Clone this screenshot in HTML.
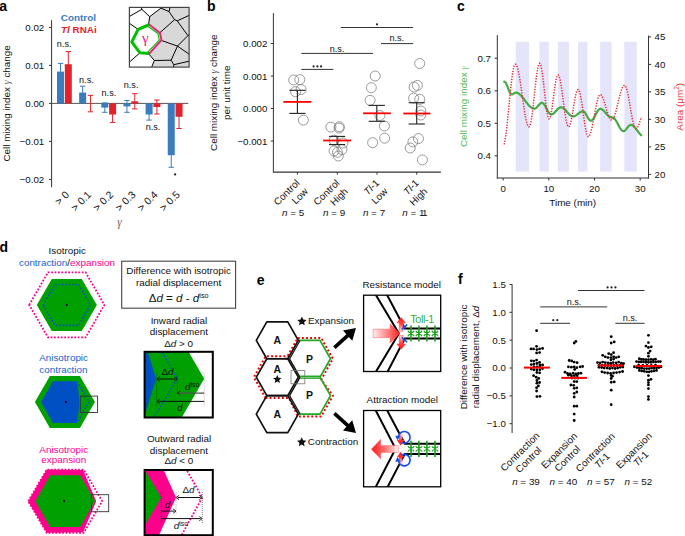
<!DOCTYPE html>
<html><head><meta charset="utf-8"><title>Figure</title>
<style>
html,body{margin:0;padding:0;background:#fff;}
body{width:685px;height:536px;overflow:hidden;}
svg{display:block;font-family:"Liberation Sans", sans-serif;}
</style></head>
<body>
<svg width="685" height="536" viewBox="0 0 685 536" fill="#111">
<rect width="685" height="536" fill="#fff"/>
<text x="-0.70" y="10.60" font-size="14" fill="#000" font-weight="bold">a</text>
<line x1="51.60" y1="20.20" x2="51.60" y2="187.20" stroke="#333" stroke-width="1"/>
<line x1="49.00" y1="27.40" x2="51.60" y2="27.40" stroke="#333" stroke-width="1"/>
<text x="44.20" y="30.90" font-size="9.7" text-anchor="end">0.02</text>
<line x1="49.00" y1="65.40" x2="51.60" y2="65.40" stroke="#333" stroke-width="1"/>
<text x="44.20" y="68.90" font-size="9.7" text-anchor="end">0.01</text>
<line x1="49.00" y1="103.40" x2="51.60" y2="103.40" stroke="#333" stroke-width="1"/>
<text x="44.20" y="106.90" font-size="9.7" text-anchor="end">0.00</text>
<line x1="49.00" y1="141.40" x2="51.60" y2="141.40" stroke="#333" stroke-width="1"/>
<text x="44.20" y="144.90" font-size="9.7" text-anchor="end">−0.01</text>
<line x1="49.00" y1="179.40" x2="51.60" y2="179.40" stroke="#333" stroke-width="1"/>
<text x="44.20" y="182.90" font-size="9.7" text-anchor="end">−0.02</text>
<text x="9.70" y="103.40" font-size="9.9" text-anchor="middle" transform="rotate(-90 9.70 103.40)">Cell mixing index <tspan font-family="Liberation Serif" font-style="italic" fill-opacity="0.75">γ</tspan> change</text>
<line x1="51.60" y1="103.40" x2="188.30" y2="103.40" stroke="#555" stroke-width="1"/>
<line x1="60.50" y1="63.40" x2="60.50" y2="79.80" stroke="#3a7cbd" stroke-width="1"/>
<line x1="57.80" y1="63.40" x2="63.20" y2="63.40" stroke="#3a7cbd" stroke-width="1"/>
<line x1="57.80" y1="79.80" x2="63.20" y2="79.80" stroke="#3a7cbd" stroke-width="1"/>
<rect x="57.00" y="71.60" width="7.00" height="31.80" fill="#3a7cbd"/>
<line x1="68.30" y1="51.60" x2="68.30" y2="76.80" stroke="#e3232b" stroke-width="1"/>
<line x1="65.60" y1="51.60" x2="71.00" y2="51.60" stroke="#e3232b" stroke-width="1"/>
<line x1="65.60" y1="76.80" x2="71.00" y2="76.80" stroke="#e3232b" stroke-width="1"/>
<rect x="64.80" y="64.20" width="7.00" height="39.20" fill="#e3232b"/>
<line x1="82.65" y1="86.20" x2="82.65" y2="99.00" stroke="#3a7cbd" stroke-width="1"/>
<line x1="79.95" y1="86.20" x2="85.35" y2="86.20" stroke="#3a7cbd" stroke-width="1"/>
<line x1="79.95" y1="99.00" x2="85.35" y2="99.00" stroke="#3a7cbd" stroke-width="1"/>
<rect x="79.15" y="92.60" width="7.00" height="10.80" fill="#3a7cbd"/>
<line x1="90.45" y1="95.40" x2="90.45" y2="111.80" stroke="#e3232b" stroke-width="1"/>
<line x1="87.75" y1="95.40" x2="93.15" y2="95.40" stroke="#e3232b" stroke-width="1"/>
<line x1="87.75" y1="111.80" x2="93.15" y2="111.80" stroke="#e3232b" stroke-width="1"/>
<rect x="86.95" y="103.40" width="7.00" height="0.20" fill="#e3232b"/>
<line x1="104.80" y1="102.90" x2="104.80" y2="112.30" stroke="#3a7cbd" stroke-width="1"/>
<line x1="102.10" y1="102.90" x2="107.50" y2="102.90" stroke="#3a7cbd" stroke-width="1"/>
<line x1="102.10" y1="112.30" x2="107.50" y2="112.30" stroke="#3a7cbd" stroke-width="1"/>
<rect x="101.30" y="103.40" width="7.00" height="4.20" fill="#3a7cbd"/>
<line x1="112.60" y1="106.50" x2="112.60" y2="122.50" stroke="#e3232b" stroke-width="1"/>
<line x1="109.90" y1="106.50" x2="115.30" y2="106.50" stroke="#e3232b" stroke-width="1"/>
<line x1="109.90" y1="122.50" x2="115.30" y2="122.50" stroke="#e3232b" stroke-width="1"/>
<rect x="109.10" y="103.40" width="7.00" height="11.10" fill="#e3232b"/>
<line x1="126.95" y1="100.50" x2="126.95" y2="112.30" stroke="#3a7cbd" stroke-width="1"/>
<line x1="124.25" y1="100.50" x2="129.65" y2="100.50" stroke="#3a7cbd" stroke-width="1"/>
<line x1="124.25" y1="112.30" x2="129.65" y2="112.30" stroke="#3a7cbd" stroke-width="1"/>
<rect x="123.45" y="103.40" width="7.00" height="3.00" fill="#3a7cbd"/>
<line x1="134.75" y1="93.70" x2="134.75" y2="108.90" stroke="#e3232b" stroke-width="1"/>
<line x1="132.05" y1="93.70" x2="137.45" y2="93.70" stroke="#e3232b" stroke-width="1"/>
<line x1="132.05" y1="108.90" x2="137.45" y2="108.90" stroke="#e3232b" stroke-width="1"/>
<rect x="131.25" y="101.30" width="7.00" height="2.10" fill="#e3232b"/>
<line x1="149.10" y1="108.90" x2="149.10" y2="120.10" stroke="#3a7cbd" stroke-width="1"/>
<line x1="146.40" y1="108.90" x2="151.80" y2="108.90" stroke="#3a7cbd" stroke-width="1"/>
<line x1="146.40" y1="120.10" x2="151.80" y2="120.10" stroke="#3a7cbd" stroke-width="1"/>
<rect x="145.60" y="103.40" width="7.00" height="11.10" fill="#3a7cbd"/>
<line x1="156.90" y1="100.00" x2="156.90" y2="114.00" stroke="#e3232b" stroke-width="1"/>
<line x1="154.20" y1="100.00" x2="159.60" y2="100.00" stroke="#e3232b" stroke-width="1"/>
<line x1="154.20" y1="114.00" x2="159.60" y2="114.00" stroke="#e3232b" stroke-width="1"/>
<rect x="153.40" y="103.40" width="7.00" height="3.60" fill="#e3232b"/>
<line x1="171.25" y1="143.10" x2="171.25" y2="167.30" stroke="#3a7cbd" stroke-width="1"/>
<line x1="168.55" y1="143.10" x2="173.95" y2="143.10" stroke="#3a7cbd" stroke-width="1"/>
<line x1="168.55" y1="167.30" x2="173.95" y2="167.30" stroke="#3a7cbd" stroke-width="1"/>
<rect x="167.75" y="103.40" width="7.00" height="51.80" fill="#3a7cbd"/>
<line x1="179.05" y1="105.10" x2="179.05" y2="128.50" stroke="#e3232b" stroke-width="1"/>
<line x1="176.35" y1="105.10" x2="181.75" y2="105.10" stroke="#e3232b" stroke-width="1"/>
<line x1="176.35" y1="128.50" x2="181.75" y2="128.50" stroke="#e3232b" stroke-width="1"/>
<rect x="175.55" y="103.40" width="7.00" height="13.40" fill="#e3232b"/>
<text x="64.20" y="46.80" font-size="9.1" text-anchor="middle">n.s.</text>
<text x="86.40" y="82.70" font-size="9.1" text-anchor="middle">n.s.</text>
<text x="108.90" y="95.90" font-size="9.1" text-anchor="middle">n.s.</text>
<text x="131.10" y="88.40" font-size="9.1" text-anchor="middle">n.s.</text>
<text x="153.00" y="130.40" font-size="9.1" text-anchor="middle">n.s.</text>
<circle cx="175.10" cy="174.40" r="1.15" fill="#222"/>
<text x="78.40" y="20.80" font-size="9.9" text-anchor="middle" fill="#3a7cbd" font-weight="bold">Control</text>
<text x="78.90" y="33.40" font-size="9.9" text-anchor="middle" fill="#e3232b" font-weight="bold"><tspan font-style="italic">Tl</tspan> RNAi</text>
<text x="69.80" y="195.40" font-size="10.4" text-anchor="end" transform="rotate(-45 69.80 195.40)">&gt; 0</text>
<text x="91.95" y="195.40" font-size="10.4" text-anchor="end" transform="rotate(-45 91.95 195.40)">&gt; 0.1</text>
<text x="114.10" y="195.40" font-size="10.4" text-anchor="end" transform="rotate(-45 114.10 195.40)">&gt; 0.2</text>
<text x="136.25" y="195.40" font-size="10.4" text-anchor="end" transform="rotate(-45 136.25 195.40)">&gt; 0.3</text>
<text x="158.40" y="195.40" font-size="10.4" text-anchor="end" transform="rotate(-45 158.40 195.40)">&gt; 0.4</text>
<text x="180.55" y="195.40" font-size="10.4" text-anchor="end" transform="rotate(-45 180.55 195.40)">&gt; 0.5</text>
<text x="119.40" y="225.60" font-size="11.5" text-anchor="middle" fill="#666" font-family="Liberation Serif" font-style="italic">γ</text>
<clipPath id="insclip"><rect x="129.4" y="7.4" width="59.69999999999999" height="59.699999999999996"/></clipPath>
<g clip-path="url(#insclip)">
<rect x="129.40" y="7.40" width="59.70" height="59.70" fill="#fff"/>
<polygon points="160.90,8.10 191.10,5.40 191.10,69.10 151.30,68.10 154.30,60.50 148.40,53.40 160.70,40.20 159.30,33.20 148.50,25.00 149.70,16.70" fill="#d8d8d8"/>
<line x1="148.50" y1="25.00" x2="149.70" y2="16.70" stroke="#000" stroke-width="1.0"/>
<line x1="149.70" y1="16.70" x2="141.90" y2="9.30" stroke="#000" stroke-width="1.0"/>
<line x1="141.90" y1="9.30" x2="141.20" y2="6.40" stroke="#000" stroke-width="1.0"/>
<line x1="141.90" y1="9.30" x2="129.00" y2="16.70" stroke="#000" stroke-width="1.0"/>
<line x1="149.70" y1="16.70" x2="160.90" y2="8.10" stroke="#000" stroke-width="1.0"/>
<line x1="160.90" y1="8.10" x2="169.00" y2="11.60" stroke="#000" stroke-width="1.0"/>
<line x1="169.00" y1="11.60" x2="170.30" y2="6.40" stroke="#000" stroke-width="1.0"/>
<line x1="169.00" y1="11.60" x2="174.60" y2="19.70" stroke="#000" stroke-width="1.0"/>
<line x1="174.60" y1="19.70" x2="177.20" y2="20.80" stroke="#000" stroke-width="1.0"/>
<line x1="174.60" y1="19.70" x2="159.30" y2="33.20" stroke="#000" stroke-width="1.0"/>
<line x1="177.20" y1="20.80" x2="190.00" y2="15.00" stroke="#000" stroke-width="1.0"/>
<line x1="177.20" y1="20.80" x2="187.90" y2="35.60" stroke="#000" stroke-width="1.0"/>
<line x1="187.90" y1="35.60" x2="190.00" y2="34.50" stroke="#000" stroke-width="1.0"/>
<line x1="187.90" y1="35.60" x2="177.50" y2="46.10" stroke="#000" stroke-width="1.0"/>
<line x1="160.70" y1="40.20" x2="177.50" y2="46.10" stroke="#000" stroke-width="1.0"/>
<line x1="177.50" y1="46.10" x2="190.00" y2="54.80" stroke="#000" stroke-width="1.0"/>
<line x1="177.50" y1="46.10" x2="171.10" y2="60.20" stroke="#000" stroke-width="1.0"/>
<line x1="148.40" y1="53.40" x2="154.30" y2="60.50" stroke="#000" stroke-width="1.0"/>
<line x1="154.30" y1="60.50" x2="171.10" y2="60.20" stroke="#000" stroke-width="1.0"/>
<line x1="154.30" y1="60.50" x2="151.30" y2="68.10" stroke="#000" stroke-width="1.0"/>
<line x1="171.10" y1="60.20" x2="173.80" y2="64.70" stroke="#000" stroke-width="1.0"/>
<line x1="173.80" y1="64.70" x2="190.00" y2="61.00" stroke="#000" stroke-width="1.0"/>
<line x1="173.80" y1="64.70" x2="173.40" y2="68.10" stroke="#000" stroke-width="1.0"/>
<line x1="138.10" y1="29.40" x2="129.00" y2="23.00" stroke="#000" stroke-width="1.0"/>
<line x1="140.00" y1="52.80" x2="129.00" y2="62.40" stroke="#000" stroke-width="1.0"/>
<polyline points="148.40,53.40 140.00,52.80 131.80,42.00 138.10,29.40 148.50,25.00" fill="none" stroke="#00c000" stroke-width="3.0" stroke-linejoin="round" stroke-linecap="round"/>
<polyline points="147.40,25.90 158.00,33.60 159.30,40.20 147.30,52.60" fill="none" stroke="#00c000" stroke-width="1.2" stroke-linejoin="round"/>
<polyline points="149.10,24.50 160.00,33.00 161.50,40.20 149.00,53.90" fill="none" stroke="#e8247c" stroke-width="2.0" stroke-linejoin="round"/>
<text x="145.40" y="43.00" font-size="15" text-anchor="middle" fill="#e8247c" font-family="Liberation Serif">γ</text>
</g>
<rect x="129.40" y="7.40" width="59.70" height="59.70" fill="none" stroke="#444" stroke-width="1.2"/>
<text x="207.00" y="10.50" font-size="14" fill="#000" font-weight="bold">b</text>
<line x1="273.40" y1="13.10" x2="273.40" y2="172.10" stroke="#333" stroke-width="1"/>
<line x1="272.90" y1="172.10" x2="440.90" y2="172.10" stroke="#333" stroke-width="1.2"/>
<line x1="270.80" y1="43.50" x2="273.40" y2="43.50" stroke="#333" stroke-width="1"/>
<text x="267.30" y="47.00" font-size="9.7" text-anchor="end">0.002</text>
<line x1="270.80" y1="76.00" x2="273.40" y2="76.00" stroke="#333" stroke-width="1"/>
<text x="267.30" y="79.50" font-size="9.7" text-anchor="end">0.001</text>
<line x1="270.80" y1="108.50" x2="273.40" y2="108.50" stroke="#333" stroke-width="1"/>
<text x="267.30" y="112.00" font-size="9.7" text-anchor="end">0.000</text>
<line x1="270.80" y1="141.00" x2="273.40" y2="141.00" stroke="#333" stroke-width="1"/>
<text x="267.30" y="144.50" font-size="9.7" text-anchor="end">−0.001</text>
<text x="217.20" y="92.70" font-size="9.9" text-anchor="middle" transform="rotate(-90 217.20 92.70)">Cell mixing index <tspan font-family="Liberation Serif" font-style="italic" fill-opacity="0.75">γ</tspan> change</text>
<text x="229.80" y="92.70" font-size="9.9" text-anchor="middle" transform="rotate(-90 229.80 92.70)">per unit time</text>
<line x1="297.40" y1="172.10" x2="297.40" y2="174.60" stroke="#333" stroke-width="1"/>
<line x1="337.30" y1="172.10" x2="337.30" y2="174.60" stroke="#333" stroke-width="1"/>
<line x1="377.00" y1="172.10" x2="377.00" y2="174.60" stroke="#333" stroke-width="1"/>
<line x1="416.70" y1="172.10" x2="416.70" y2="174.60" stroke="#333" stroke-width="1"/>
<circle cx="293.70" cy="80.00" r="5.0" fill="none" stroke="#7a7a7a" stroke-width="0.75"/>
<circle cx="299.80" cy="79.60" r="5.0" fill="none" stroke="#7a7a7a" stroke-width="0.75"/>
<circle cx="295.50" cy="91.70" r="5.0" fill="none" stroke="#7a7a7a" stroke-width="0.75"/>
<circle cx="301.10" cy="89.50" r="5.0" fill="none" stroke="#7a7a7a" stroke-width="0.75"/>
<circle cx="303.40" cy="120.10" r="5.0" fill="none" stroke="#7a7a7a" stroke-width="0.75"/>
<circle cx="330.90" cy="127.10" r="5.0" fill="none" stroke="#7a7a7a" stroke-width="0.75"/>
<circle cx="339.30" cy="126.70" r="5.0" fill="none" stroke="#7a7a7a" stroke-width="0.75"/>
<circle cx="339.10" cy="128.10" r="5.0" fill="none" stroke="#7a7a7a" stroke-width="0.75"/>
<circle cx="334.10" cy="140.20" r="5.0" fill="none" stroke="#7a7a7a" stroke-width="0.75"/>
<circle cx="343.00" cy="143.00" r="5.0" fill="none" stroke="#7a7a7a" stroke-width="0.75"/>
<circle cx="334.10" cy="150.90" r="5.0" fill="none" stroke="#7a7a7a" stroke-width="0.75"/>
<circle cx="342.00" cy="149.50" r="5.0" fill="none" stroke="#7a7a7a" stroke-width="0.75"/>
<circle cx="338.30" cy="156.00" r="5.0" fill="none" stroke="#7a7a7a" stroke-width="0.75"/>
<circle cx="337.40" cy="152.30" r="5.0" fill="none" stroke="#7a7a7a" stroke-width="0.75"/>
<circle cx="375.20" cy="76.00" r="5.0" fill="none" stroke="#7a7a7a" stroke-width="0.75"/>
<circle cx="371.30" cy="87.70" r="5.0" fill="none" stroke="#7a7a7a" stroke-width="0.75"/>
<circle cx="370.10" cy="100.30" r="5.0" fill="none" stroke="#7a7a7a" stroke-width="0.75"/>
<circle cx="379.90" cy="115.50" r="5.0" fill="none" stroke="#7a7a7a" stroke-width="0.75"/>
<circle cx="384.40" cy="126.00" r="5.0" fill="none" stroke="#7a7a7a" stroke-width="0.75"/>
<circle cx="384.70" cy="138.20" r="5.0" fill="none" stroke="#7a7a7a" stroke-width="0.75"/>
<circle cx="372.60" cy="142.70" r="5.0" fill="none" stroke="#7a7a7a" stroke-width="0.75"/>
<circle cx="419.70" cy="63.50" r="5.0" fill="none" stroke="#7a7a7a" stroke-width="0.75"/>
<circle cx="414.10" cy="87.00" r="5.0" fill="none" stroke="#7a7a7a" stroke-width="0.75"/>
<circle cx="417.40" cy="85.40" r="5.0" fill="none" stroke="#7a7a7a" stroke-width="0.75"/>
<circle cx="413.60" cy="98.20" r="5.0" fill="none" stroke="#7a7a7a" stroke-width="0.75"/>
<circle cx="419.70" cy="99.30" r="5.0" fill="none" stroke="#7a7a7a" stroke-width="0.75"/>
<circle cx="420.80" cy="111.00" r="5.0" fill="none" stroke="#7a7a7a" stroke-width="0.75"/>
<circle cx="420.80" cy="115.00" r="5.0" fill="none" stroke="#7a7a7a" stroke-width="0.75"/>
<circle cx="418.50" cy="138.60" r="5.0" fill="none" stroke="#7a7a7a" stroke-width="0.75"/>
<circle cx="412.90" cy="141.90" r="5.0" fill="none" stroke="#7a7a7a" stroke-width="0.75"/>
<circle cx="410.20" cy="148.00" r="5.0" fill="none" stroke="#7a7a7a" stroke-width="0.75"/>
<circle cx="422.40" cy="159.90" r="5.0" fill="none" stroke="#7a7a7a" stroke-width="0.75"/>
<line x1="297.40" y1="90.30" x2="297.40" y2="113.40" stroke="#222" stroke-width="1.1"/>
<line x1="289.30" y1="90.30" x2="305.50" y2="90.30" stroke="#222" stroke-width="1.1"/>
<line x1="289.30" y1="113.40" x2="305.50" y2="113.40" stroke="#222" stroke-width="1.1"/>
<line x1="283.40" y1="101.90" x2="311.40" y2="101.90" stroke="#f00" stroke-width="1.8"/>
<line x1="337.10" y1="136.40" x2="337.10" y2="144.60" stroke="#222" stroke-width="1.1"/>
<line x1="329.00" y1="136.40" x2="345.20" y2="136.40" stroke="#222" stroke-width="1.1"/>
<line x1="329.00" y1="144.60" x2="345.20" y2="144.60" stroke="#222" stroke-width="1.1"/>
<line x1="323.20" y1="140.50" x2="351.00" y2="140.50" stroke="#f00" stroke-width="1.8"/>
<line x1="376.80" y1="105.40" x2="376.80" y2="121.30" stroke="#222" stroke-width="1.1"/>
<line x1="368.70" y1="105.40" x2="384.90" y2="105.40" stroke="#222" stroke-width="1.1"/>
<line x1="368.70" y1="121.30" x2="384.90" y2="121.30" stroke="#222" stroke-width="1.1"/>
<line x1="363.10" y1="113.30" x2="390.80" y2="113.30" stroke="#f00" stroke-width="1.8"/>
<line x1="416.70" y1="102.70" x2="416.70" y2="124.00" stroke="#222" stroke-width="1.1"/>
<line x1="408.60" y1="102.70" x2="424.80" y2="102.70" stroke="#222" stroke-width="1.1"/>
<line x1="408.60" y1="124.00" x2="424.80" y2="124.00" stroke="#222" stroke-width="1.1"/>
<line x1="403.30" y1="113.50" x2="430.40" y2="113.50" stroke="#f00" stroke-width="1.8"/>
<line x1="301.30" y1="69.40" x2="333.40" y2="69.40" stroke="#333" stroke-width="1"/>
<circle cx="313.60" cy="66.40" r="1.1" fill="#222"/>
<circle cx="317.40" cy="66.40" r="1.1" fill="#222"/>
<circle cx="321.10" cy="66.40" r="1.1" fill="#222"/>
<line x1="301.30" y1="53.40" x2="373.00" y2="53.40" stroke="#333" stroke-width="1"/>
<text x="337.10" y="51.60" font-size="9.1" text-anchor="middle">n.s.</text>
<line x1="340.80" y1="27.50" x2="413.10" y2="27.50" stroke="#333" stroke-width="1"/>
<circle cx="377.00" cy="24.30" r="1.1" fill="#222"/>
<line x1="381.00" y1="43.60" x2="413.10" y2="43.60" stroke="#333" stroke-width="1"/>
<text x="396.80" y="41.40" font-size="9.1" text-anchor="middle">n.s.</text>
<text x="300.20" y="183.60" font-size="9.9" text-anchor="end" transform="rotate(-45 300.20 183.60)">Control</text>
<text x="308.61" y="192.01" font-size="9.9" text-anchor="end" transform="rotate(-45 308.61 192.01)">Low</text>
<text x="293.20" y="215.60" font-size="9.9" text-anchor="middle"><tspan font-style="italic">n</tspan> = 5</text>
<text x="340.10" y="183.60" font-size="9.9" text-anchor="end" transform="rotate(-45 340.10 183.60)">Control</text>
<text x="348.51" y="192.01" font-size="9.9" text-anchor="end" transform="rotate(-45 348.51 192.01)">High</text>
<text x="334.00" y="215.60" font-size="9.9" text-anchor="middle"><tspan font-style="italic">n</tspan> = 9</text>
<text x="379.80" y="183.60" font-size="9.9" text-anchor="end" transform="rotate(-45 379.80 183.60)"><tspan font-style="italic">Tl</tspan>-1</text>
<text x="388.21" y="192.01" font-size="9.9" text-anchor="end" transform="rotate(-45 388.21 192.01)">Low</text>
<text x="374.00" y="215.60" font-size="9.9" text-anchor="middle"><tspan font-style="italic">n</tspan> = 7</text>
<text x="419.50" y="183.60" font-size="9.9" text-anchor="end" transform="rotate(-45 419.50 183.60)"><tspan font-style="italic">Tl</tspan>-1</text>
<text x="427.91" y="192.01" font-size="9.9" text-anchor="end" transform="rotate(-45 427.91 192.01)">High</text>
<text x="402.20" y="215.60" font-size="9.9"><tspan font-style="italic">n</tspan> = 1<tspan dx="-1.6">1</tspan></text>
<text x="457.10" y="10.70" font-size="14" fill="#000" font-weight="bold">c</text>
<rect x="515.70" y="41.80" width="13.40" height="129.80" fill="#e4e4fb"/>
<rect x="539.50" y="41.80" width="9.30" height="129.80" fill="#e4e4fb"/>
<rect x="557.90" y="41.80" width="11.00" height="129.80" fill="#e4e4fb"/>
<rect x="578.10" y="41.80" width="9.40" height="129.80" fill="#e4e4fb"/>
<rect x="600.20" y="41.80" width="11.40" height="129.80" fill="#e4e4fb"/>
<rect x="624.30" y="41.80" width="12.50" height="129.80" fill="#e4e4fb"/>
<line x1="497.30" y1="35.10" x2="497.30" y2="178.50" stroke="#333" stroke-width="1"/>
<line x1="648.50" y1="35.60" x2="648.50" y2="178.50" stroke="#333" stroke-width="1"/>
<line x1="496.80" y1="178.00" x2="649.00" y2="178.00" stroke="#333" stroke-width="1.2"/>
<line x1="494.60" y1="58.20" x2="497.30" y2="58.20" stroke="#333" stroke-width="1"/>
<text x="491.00" y="61.60" font-size="9.7" text-anchor="end">0.7</text>
<line x1="494.60" y1="90.80" x2="497.30" y2="90.80" stroke="#333" stroke-width="1"/>
<text x="491.00" y="94.20" font-size="9.7" text-anchor="end">0.6</text>
<line x1="494.60" y1="123.30" x2="497.30" y2="123.30" stroke="#333" stroke-width="1"/>
<text x="491.00" y="126.70" font-size="9.7" text-anchor="end">0.5</text>
<line x1="494.60" y1="155.80" x2="497.30" y2="155.80" stroke="#333" stroke-width="1"/>
<text x="491.00" y="159.20" font-size="9.7" text-anchor="end">0.4</text>
<line x1="648.50" y1="36.90" x2="651.10" y2="36.90" stroke="#333" stroke-width="1"/>
<text x="654.50" y="40.30" font-size="9.7">45</text>
<line x1="648.50" y1="64.40" x2="651.10" y2="64.40" stroke="#333" stroke-width="1"/>
<text x="654.50" y="67.80" font-size="9.7">40</text>
<line x1="648.50" y1="91.80" x2="651.10" y2="91.80" stroke="#333" stroke-width="1"/>
<text x="654.50" y="95.20" font-size="9.7">35</text>
<line x1="648.50" y1="119.30" x2="651.10" y2="119.30" stroke="#333" stroke-width="1"/>
<text x="654.50" y="122.70" font-size="9.7">30</text>
<line x1="648.50" y1="146.90" x2="651.10" y2="146.90" stroke="#333" stroke-width="1"/>
<text x="654.50" y="150.30" font-size="9.7">25</text>
<line x1="648.50" y1="174.40" x2="651.10" y2="174.40" stroke="#333" stroke-width="1"/>
<text x="654.50" y="177.80" font-size="9.7">20</text>
<line x1="503.10" y1="178.00" x2="503.10" y2="180.50" stroke="#333" stroke-width="1"/>
<text x="503.10" y="192.00" font-size="9.7" text-anchor="middle">0</text>
<line x1="548.80" y1="178.00" x2="548.80" y2="180.50" stroke="#333" stroke-width="1"/>
<text x="548.80" y="192.00" font-size="9.7" text-anchor="middle">10</text>
<line x1="594.50" y1="178.00" x2="594.50" y2="180.50" stroke="#333" stroke-width="1"/>
<text x="594.50" y="192.00" font-size="9.7" text-anchor="middle">20</text>
<line x1="640.20" y1="178.00" x2="640.20" y2="180.50" stroke="#333" stroke-width="1"/>
<text x="640.20" y="192.00" font-size="9.7" text-anchor="middle">30</text>
<text x="572.70" y="206.40" font-size="9.9" text-anchor="middle">Time (min)</text>
<text x="467.20" y="106.40" font-size="9.9" text-anchor="middle" fill="#4cb84c" transform="rotate(-90 467.20 106.40)">Cell mixing index <tspan font-family="Liberation Serif" font-style="italic" fill-opacity="0.75">γ</tspan></text>
<text x="682.60" y="106.80" font-size="9.9" text-anchor="middle" fill="#e8383d" transform="rotate(-90 682.60 106.80)">Area (μm<tspan font-size="6.5" dy="-3.6">2</tspan><tspan dy="3.6">)</tspan></text>
<path d="M504.20,81.60 L504.70,81.74 L505.20,82.14 L505.70,82.79 L506.20,83.67 L506.70,84.72 L507.20,85.92 L507.70,87.21 L508.20,88.53 L508.70,89.83 L509.20,91.05 L509.70,92.14 L510.20,93.05 L510.70,93.75 L511.20,94.20 L511.70,94.39 L512.20,94.35 L512.70,94.17 L513.20,93.89 L513.70,93.54 L514.20,93.18 L514.70,92.88 L515.20,92.67 L515.70,92.60 L516.20,92.63 L516.70,92.71 L517.20,92.85 L517.70,93.05 L518.20,93.30 L518.70,93.59 L519.20,93.94 L519.70,94.34 L520.20,94.78 L520.70,95.26 L521.20,95.78 L521.70,96.33 L522.20,96.91 L522.70,97.52 L523.20,98.15 L523.70,98.80 L524.20,99.46 L524.70,100.13 L525.20,100.80 L525.70,101.47 L526.20,102.14 L526.70,102.79 L527.20,103.43 L527.70,104.05 L528.20,104.64 L528.70,105.20 L529.20,105.74 L529.70,106.23 L530.20,106.69 L530.70,107.10 L531.20,107.47 L531.70,107.79 L532.20,108.06 L532.70,108.28 L533.20,108.44 L533.70,108.54 L534.20,108.60 L534.70,108.58 L535.20,108.45 L535.70,108.20 L536.20,107.85 L536.70,107.41 L537.20,106.89 L537.70,106.33 L538.20,105.75 L538.70,105.17 L539.20,104.61 L539.70,104.09 L540.20,103.65 L540.70,103.30 L541.20,103.05 L541.70,102.92 L542.20,102.91 L542.70,103.06 L543.20,103.38 L543.70,103.84 L544.20,104.45 L544.70,105.18 L545.20,106.00 L545.70,106.91 L546.20,107.87 L546.70,108.85 L547.20,109.82 L547.70,110.76 L548.20,111.64 L548.70,112.43 L549.20,113.11 L549.70,113.66 L550.20,114.07 L550.70,114.32 L551.20,114.40 L551.70,114.35 L552.20,114.22 L552.70,114.00 L553.20,113.70 L553.70,113.32 L554.20,112.88 L554.70,112.39 L555.20,111.86 L555.70,111.30 L556.20,110.74 L556.70,110.17 L557.20,109.62 L557.70,109.11 L558.20,108.64 L558.70,108.22 L559.20,107.87 L559.70,107.60 L560.20,107.42 L560.70,107.32 L561.20,107.31 L561.70,107.38 L562.20,107.52 L562.70,107.74 L563.20,108.03 L563.70,108.39 L564.20,108.81 L564.70,109.27 L565.20,109.78 L565.70,110.33 L566.20,110.90 L566.70,111.49 L567.20,112.09 L567.70,112.68 L568.20,113.26 L568.70,113.81 L569.20,114.33 L569.70,114.80 L570.20,115.23 L570.70,115.60 L571.20,115.90 L571.70,116.14 L572.20,116.30 L572.70,116.39 L573.20,116.39 L573.70,116.34 L574.20,116.22 L574.70,116.04 L575.20,115.81 L575.70,115.54 L576.20,115.22 L576.70,114.86 L577.20,114.48 L577.70,114.09 L578.20,113.69 L578.70,113.29 L579.20,112.91 L579.70,112.55 L580.20,112.22 L580.70,111.94 L581.20,111.70 L581.70,111.51 L582.20,111.38 L582.70,111.31 L583.20,111.31 L583.70,111.48 L584.20,111.83 L584.70,112.33 L585.20,112.99 L585.70,113.76 L586.20,114.62 L586.70,115.53 L587.20,116.47 L587.70,117.38 L588.20,118.24 L588.70,119.01 L589.20,119.67 L589.70,120.17 L590.20,120.52 L590.70,120.69 L591.20,120.67 L591.70,120.49 L592.20,120.15 L592.70,119.66 L593.20,119.04 L593.70,118.30 L594.20,117.46 L594.70,116.55 L595.20,115.59 L595.70,114.60 L596.20,113.62 L596.70,112.68 L597.20,111.79 L597.70,110.99 L598.20,110.29 L598.70,109.72 L599.20,109.29 L599.70,109.02 L600.20,108.90 L600.70,108.93 L601.20,109.04 L601.70,109.24 L602.20,109.51 L602.70,109.86 L603.20,110.28 L603.70,110.76 L604.20,111.28 L604.70,111.83 L605.20,112.42 L605.70,113.01 L606.20,113.60 L606.70,114.18 L607.20,114.73 L607.70,115.24 L608.20,115.71 L608.70,116.11 L609.20,116.45 L609.70,116.71 L610.20,116.89 L610.70,116.98 L611.20,117.03 L611.70,117.27 L612.20,117.54 L612.70,117.61 L613.20,117.73 L613.70,117.99 L614.20,118.38 L614.70,118.89 L615.20,119.51 L615.70,120.23 L616.20,121.03 L616.70,121.90 L617.20,122.82 L617.70,123.77 L618.20,124.74 L618.70,125.69 L619.20,126.62 L619.70,127.50 L620.20,128.32 L620.70,129.05 L621.20,129.70 L621.70,130.23 L622.20,130.64 L622.70,130.92 L623.20,131.08 L623.70,131.09 L624.20,130.96 L624.70,130.68 L625.20,130.29 L625.70,129.78 L626.20,129.19 L626.70,128.54 L627.20,127.86 L627.70,127.20 L628.20,126.57 L628.70,126.01 L629.20,125.54 L629.70,125.19 L630.20,124.97 L630.70,124.90 L631.20,124.94 L631.70,125.06 L632.20,125.26 L632.70,125.54 L633.20,125.88 L633.70,126.30 L634.20,126.77 L634.70,127.30 L635.20,127.88 L635.70,128.50 L636.20,129.14 L636.70,129.81 L637.20,130.49 L637.70,131.18 L638.20,131.86 L638.70,132.52 L639.20,133.15 L639.70,133.76 L640.20,134.32 L640.70,134.83 L641.20,135.28" fill="none" stroke="#45ab45" stroke-width="2.2" stroke-linecap="round" stroke-linejoin="round"/>
<path d="M504.20,144.46 L504.70,142.13 L505.20,139.26 L505.70,135.91 L506.20,132.11 L506.70,127.93 L507.20,123.42 L507.70,118.66 L508.20,113.71 L508.70,108.65 L509.20,103.55 L509.70,98.49 L510.20,93.54 L510.70,88.78 L511.20,84.27 L511.70,80.09 L512.20,76.29 L512.70,72.94 L513.20,70.07 L513.70,67.74 L514.20,65.98 L514.70,64.81 L515.20,64.25 L515.70,64.28 L516.20,64.73 L516.70,65.60 L517.20,66.87 L517.70,68.51 L518.20,70.52 L518.70,72.86 L519.20,75.50 L519.70,78.41 L520.20,81.55 L520.70,84.87 L521.20,88.33 L521.70,91.89 L522.20,95.50 L522.70,99.11 L523.20,102.67 L523.70,106.13 L524.20,109.45 L524.70,112.59 L525.20,115.50 L525.70,118.14 L526.20,120.48 L526.70,122.49 L527.20,124.13 L527.70,125.40 L528.20,126.27 L528.70,126.72 L529.20,126.75 L529.70,126.13 L530.20,124.85 L530.70,122.93 L531.20,120.40 L531.70,117.34 L532.20,113.79 L532.70,109.84 L533.20,105.57 L533.70,101.07 L534.20,96.45 L534.70,91.79 L535.20,87.21 L535.70,82.79 L536.20,78.64 L536.70,74.84 L537.20,71.48 L537.70,68.62 L538.20,66.33 L538.70,64.66 L539.20,63.64 L539.70,63.30 L540.20,63.69 L540.70,64.84 L541.20,66.72 L541.70,69.28 L542.20,72.45 L542.70,76.14 L543.20,80.25 L543.70,84.66 L544.20,89.24 L544.70,93.88 L545.20,98.44 L545.70,102.80 L546.20,106.83 L546.70,110.43 L547.20,113.48 L547.70,115.91 L548.20,117.65 L548.70,118.65 L549.20,118.89 L549.70,118.41 L550.20,117.26 L550.70,115.48 L551.20,113.13 L551.70,110.27 L552.20,106.99 L552.70,103.40 L553.20,99.61 L553.70,95.74 L554.20,91.90 L554.70,88.21 L555.20,84.80 L555.70,81.76 L556.20,79.19 L556.70,77.18 L557.20,75.77 L557.70,75.02 L558.20,74.95 L558.70,75.46 L559.20,76.52 L559.70,78.12 L560.20,80.22 L560.70,82.77 L561.20,85.72 L561.70,89.00 L562.20,92.54 L562.70,96.26 L563.20,100.08 L563.70,103.92 L564.20,107.69 L564.70,111.31 L565.20,114.70 L565.70,117.79 L566.20,120.51 L566.70,122.79 L567.20,124.60 L567.70,125.88 L568.20,126.62 L568.70,126.79 L569.20,126.44 L569.70,125.58 L570.20,124.26 L570.70,122.49 L571.20,120.34 L571.70,117.85 L572.20,115.10 L572.70,112.17 L573.20,109.12 L573.70,106.05 L574.20,103.04 L574.70,100.17 L575.20,97.52 L575.70,95.16 L576.20,93.15 L576.70,91.56 L577.20,90.42 L577.70,89.76 L578.20,89.61 L578.70,90.00 L579.20,90.94 L579.70,92.40 L580.20,94.35 L580.70,96.74 L581.20,99.52 L581.70,102.63 L582.20,105.98 L582.70,109.50 L583.20,113.10 L583.70,116.70 L584.20,120.22 L584.70,123.57 L585.20,126.68 L585.70,129.46 L586.20,131.85 L586.70,133.80 L587.20,135.26 L587.70,136.20 L588.20,136.59 L588.70,136.48 L589.20,136.02 L589.70,135.21 L590.20,134.06 L590.70,132.59 L591.20,130.83 L591.70,128.82 L592.20,126.57 L592.70,124.14 L593.20,121.56 L593.70,118.89 L594.20,116.15 L594.70,113.40 L595.20,110.70 L595.70,108.07 L596.20,105.58 L596.70,103.26 L597.20,101.14 L597.70,99.28 L598.20,97.69 L598.70,96.42 L599.20,95.46 L599.70,94.86 L600.20,94.61 L600.70,94.68 L601.20,95.00 L601.70,95.57 L602.20,96.36 L602.70,97.37 L603.20,98.58 L603.70,99.95 L604.20,101.47 L604.70,103.11 L605.20,104.82 L605.70,106.59 L606.20,108.37 L606.70,110.13 L607.20,111.83 L607.70,113.44 L608.20,114.94 L608.70,116.28 L609.20,117.45 L609.70,118.42 L610.20,119.16 L610.70,119.68 L611.20,119.96 L611.70,119.98 L612.20,119.76 L612.70,119.29 L613.20,118.58 L613.70,117.65 L614.20,116.50 L614.70,115.15 L615.20,113.62 L615.70,111.94 L616.20,110.13 L616.70,108.20 L617.20,106.20 L617.70,104.15 L618.20,102.08 L618.70,100.01 L619.20,97.99 L619.70,96.03 L620.20,94.17 L620.70,92.43 L621.20,90.84 L621.70,89.42 L622.20,88.19 L622.70,87.17 L623.20,86.37 L623.70,85.80 L624.20,85.48 L624.70,85.41 L625.20,85.70 L625.70,86.40 L626.20,87.50 L626.70,88.97 L627.20,90.79 L627.70,92.92 L628.20,95.32 L628.70,97.95 L629.20,100.75 L629.70,103.67 L630.20,106.65 L630.70,109.64 L631.20,112.58 L631.70,115.40 L632.20,118.07 L632.70,120.52 L633.20,122.71 L633.70,124.59 L634.20,126.14 L634.70,127.31 L635.20,128.09 L635.70,128.47 L636.20,128.46 L636.70,128.19 L637.20,127.70 L637.70,126.97 L638.20,126.03 L638.70,124.90 L639.20,123.58 L639.70,122.11 L640.20,120.50 L640.70,118.79 L641.20,117.01" fill="none" stroke="#e32b35" stroke-width="1.5" stroke-dasharray="1.3 1.4"/>
<text x="-0.60" y="251.50" font-size="14" fill="#000" font-weight="bold">d</text>
<text x="67.20" y="254.20" font-size="9.9" text-anchor="middle">Isotropic</text>
<text x="67.00" y="265.90" font-size="9.9" text-anchor="middle"><tspan fill="#1a5fcc">contraction</tspan>/<tspan fill="#ff008c">expansion</tspan></text>
<polygon points="36.80,304.90 51.80,278.92 81.80,278.92 96.80,304.90 81.80,330.88 51.80,330.88" fill="#00a000"/>
<polygon points="29.20,304.90 48.00,272.34 85.60,272.34 104.40,304.90 85.60,337.46 48.00,337.46" fill="none" stroke="#ff008c" stroke-width="1.8" stroke-dasharray="1.8 1.6"/>
<polygon points="43.20,304.90 55.00,284.46 78.60,284.46 90.40,304.90 78.60,325.34 55.00,325.34" fill="none" stroke="#0050c3" stroke-width="1.6" stroke-dasharray="1.6 1.8"/>
<circle cx="66.80" cy="304.90" r="1.1" fill="#000"/>
<text x="63.60" y="360.80" font-size="9.9" text-anchor="middle" fill="#1a5fcc">Anisotropic</text>
<text x="63.40" y="372.90" font-size="9.9" text-anchor="middle" fill="#1a5fcc">contraction</text>
<polygon points="34.90,402.10 49.90,376.12 79.90,376.12 94.90,402.10 79.90,428.08 49.90,428.08" fill="#00a000"/>
<path d="M40.900000000000006,402.1 L52.900000000000006,381.3153903091735 L76.9,381.3153903091735 Q81.4,402.1 76.9,422.88460969082655 L52.900000000000006,422.88460969082655 Z" fill="#0050c3"/>
<polyline points="76.90,381.32 88.90,402.10 76.90,422.88" fill="none" stroke="#0050c3" stroke-width="1.6" stroke-dasharray="1.6 1.8"/>
<circle cx="66.00" cy="402.10" r="1.1" fill="#000"/>
<rect x="80.30" y="396.10" width="17.30" height="16.40" fill="none" stroke="#333" stroke-width="0.9"/>
<text x="63.80" y="452.50" font-size="9.9" text-anchor="middle" fill="#ff008c">Anisotropic</text>
<text x="63.80" y="463.30" font-size="9.9" text-anchor="middle" fill="#ff008c">expansion</text>
<polygon points="28.20,501.20 46.70,469.60 83.10,470.10 96.20,501.20 83.10,532.30 46.70,532.80" fill="#ff008c"/>
<polygon points="28.20,501.20 46.70,469.60 83.70,469.60 102.20,501.20 83.70,532.80 46.70,532.80" fill="none" stroke="#ff008c" stroke-width="1.8" stroke-dasharray="1.8 1.6"/>
<polygon points="35.20,501.20 50.15,475.31 80.05,475.31 95.00,501.20 80.05,527.09 50.15,527.09" fill="#00a000"/>
<circle cx="64.00" cy="501.10" r="1.1" fill="#000"/>
<rect x="91.40" y="494.70" width="17.30" height="17.00" fill="none" stroke="#333" stroke-width="0.9"/>
<rect x="121.70" y="261.20" width="113.90" height="47.00" fill="#fff" stroke="#444" stroke-width="1.1"/>
<text x="178.60" y="274.00" font-size="9.9" text-anchor="middle">Difference with isotropic</text>
<text x="178.60" y="285.90" font-size="9.9" text-anchor="middle">radial displacement</text>
<text x="178.60" y="302.00" font-size="11.6" text-anchor="middle">Δ<tspan font-style="italic">d</tspan> = <tspan font-style="italic">d</tspan> - <tspan font-style="italic">d</tspan><tspan font-size="7.2" dy="-4.3">iso</tspan></text>
<text x="178.90" y="324.00" font-size="9.9" text-anchor="middle">Inward radial</text>
<text x="178.80" y="335.30" font-size="9.9" text-anchor="middle">displacement</text>
<text x="178.60" y="347.10" font-size="9.9" text-anchor="middle">Δ<tspan font-style="italic">d</tspan> &gt; 0</text>
<clipPath id="inclip"><rect x="144.6" y="351.8" width="68.20000000000002" height="65.69999999999999"/></clipPath>
<g clip-path="url(#inclip)">
<rect x="144.60" y="351.80" width="68.20" height="65.70" fill="#fff"/>
<polygon points="142.60,346.80 185.70,346.80 204.20,378.70 178.80,422.50 142.60,422.50" fill="#00a000"/>
<polygon points="142.60,346.80 146.21,346.80 156.10,378.70 142.52,422.50 142.60,422.50" fill="#0050c3"/>
<polyline points="160.83,349.80 177.30,378.70 152.82,419.50" fill="none" stroke="#0050c3" stroke-width="1.6" stroke-dasharray="1.6 1.8"/>
</g>
<rect x="144.60" y="351.80" width="68.20" height="65.70" fill="none" stroke="#000" stroke-width="2"/>
<line x1="156.70" y1="373.40" x2="156.70" y2="406.20" stroke="#222" stroke-width="0.6" stroke-dasharray="1 1"/>
<line x1="177.30" y1="373.40" x2="177.30" y2="395.00" stroke="#222" stroke-width="0.6" stroke-dasharray="1 1"/>
<line x1="204.20" y1="372.60" x2="204.20" y2="406.20" stroke="#888" stroke-width="0.6" stroke-dasharray="1 1"/>
<line x1="158.50" y1="379.00" x2="175.50" y2="379.00" stroke="#111" stroke-width="1"/>
<polyline points="159.70,376.90 156.90,379.00 159.70,381.10" fill="none" stroke="#111" stroke-width="0.9"/>
<polyline points="174.30,376.90 177.10,379.00 174.30,381.10" fill="none" stroke="#111" stroke-width="0.9"/>
<line x1="179.00" y1="393.10" x2="204.20" y2="393.10" stroke="#555" stroke-width="1.3"/>
<polyline points="180.30,391.00 177.50,393.10 180.30,395.20" fill="none" stroke="#111" stroke-width="0.9"/>
<line x1="158.50" y1="401.40" x2="204.20" y2="401.40" stroke="#111" stroke-width="1"/>
<polyline points="159.70,399.30 156.90,401.40 159.70,403.50" fill="none" stroke="#111" stroke-width="0.9"/>
<text x="167.50" y="375.20" font-size="9.9" text-anchor="middle">Δ<tspan font-style="italic">d</tspan></text>
<text x="185.00" y="390.40" font-size="9.9"><tspan font-style="italic">d</tspan><tspan font-size="6.8" dy="-3.8">iso</tspan></text>
<text x="179.80" y="410.50" font-size="9.9" text-anchor="middle" font-style="italic">d</text>
<text x="179.00" y="442.10" font-size="9.9" text-anchor="middle">Outward radial</text>
<text x="178.90" y="453.50" font-size="9.9" text-anchor="middle">displacement</text>
<text x="178.90" y="464.40" font-size="9.9" text-anchor="middle">Δ<tspan font-style="italic">d</tspan> &lt; 0</text>
<clipPath id="outclip"><rect x="144.6" y="470.0" width="68.20000000000002" height="65.20000000000005"/></clipPath>
<g clip-path="url(#outclip)">
<rect x="144.60" y="470.00" width="68.20" height="65.20" fill="#fff"/>
<polygon points="142.60,465.00 161.38,465.00 176.00,497.50 156.78,540.20 142.60,540.20" fill="#ff008c"/>
<polygon points="142.60,465.00 142.02,465.00 161.20,497.50 136.01,540.20 142.60,540.20" fill="#00a000"/>
<polyline points="185.49,468.00 202.30,497.50 180.46,537.20" fill="none" stroke="#ff008c" stroke-width="1.8" stroke-dasharray="1.8 1.6"/>
</g>
<rect x="144.60" y="470.00" width="68.20" height="65.20" fill="none" stroke="#000" stroke-width="2"/>
<line x1="161.20" y1="492.00" x2="161.20" y2="523.30" stroke="#222" stroke-width="0.6" stroke-dasharray="1 1"/>
<line x1="176.00" y1="492.00" x2="176.00" y2="514.70" stroke="#888" stroke-width="0.6" stroke-dasharray="1 1"/>
<line x1="202.30" y1="492.00" x2="202.30" y2="523.30" stroke="#222" stroke-width="0.6" stroke-dasharray="1 1"/>
<line x1="177.80" y1="497.50" x2="200.50" y2="497.50" stroke="#111" stroke-width="1"/>
<polyline points="179.00,495.40 176.20,497.50 179.00,499.60" fill="none" stroke="#111" stroke-width="0.9"/>
<polyline points="199.30,495.40 202.10,497.50 199.30,499.60" fill="none" stroke="#111" stroke-width="0.9"/>
<line x1="161.20" y1="511.10" x2="174.50" y2="511.10" stroke="#111" stroke-width="1"/>
<polyline points="173.20,509.00 176.00,511.10 173.20,513.20" fill="none" stroke="#111" stroke-width="0.9"/>
<line x1="161.20" y1="518.60" x2="200.50" y2="518.60" stroke="#111" stroke-width="1"/>
<polyline points="199.30,516.50 202.10,518.60 199.30,520.70" fill="none" stroke="#111" stroke-width="0.9"/>
<text x="188.50" y="492.80" font-size="9.9" text-anchor="middle">Δ<tspan font-style="italic">d</tspan></text>
<text x="167.60" y="507.70" font-size="9.9" text-anchor="middle" font-style="italic">d</text>
<text x="173.80" y="529.30" font-size="9.9"><tspan font-style="italic">d</tspan><tspan font-size="6.8" dy="-3.8">iso</tspan></text>
<text x="256.70" y="285.30" font-size="14" fill="#000" font-weight="bold">e</text>
<polygon points="265.60,398.05 253.90,377.20 265.60,356.35 288.70,356.35 286.10,358.75 297.80,337.90 321.20,337.90 332.90,358.75 321.20,379.60 332.90,395.65 321.20,416.50 297.80,416.50 289.00,398.05" fill="none" stroke="#f00000" stroke-width="2.0" stroke-dasharray="1.9 2.2" stroke-linejoin="round"/>
<polygon points="256.30,340.30 266.80,321.85 287.80,321.85 298.30,340.30 287.80,358.75 266.80,358.75" fill="none" stroke="#111" stroke-width="1.7" stroke-linejoin="round"/>
<polygon points="256.30,377.20 266.80,358.75 287.80,358.75 298.30,377.20 287.80,395.65 266.80,395.65" fill="none" stroke="#111" stroke-width="1.7" stroke-linejoin="round"/>
<polygon points="256.30,414.10 266.80,395.65 287.80,395.65 298.30,414.10 287.80,432.55 266.80,432.55" fill="none" stroke="#111" stroke-width="1.7" stroke-linejoin="round"/>
<polyline points="299.00,340.30 320.00,340.30 330.50,358.75 320.00,377.20" fill="none" stroke="#22a822" stroke-width="1.7" stroke-linejoin="round"/>
<polyline points="320.00,377.20 330.50,395.65 320.00,414.10 299.00,414.10" fill="none" stroke="#22a822" stroke-width="1.7" stroke-linejoin="round"/>
<polyline points="289.50,358.75 300.00,377.20 289.50,395.65" fill="none" stroke="#111" stroke-width="1.4"/>
<line x1="289.50" y1="358.95" x2="300.00" y2="340.50" stroke="#111" stroke-width="1.3"/>
<line x1="289.50" y1="395.45" x2="300.00" y2="413.90" stroke="#111" stroke-width="1.3"/>
<line x1="300.20" y1="376.25" x2="320.60" y2="376.25" stroke="#22a822" stroke-width="1.45"/>
<line x1="300.20" y1="378.15" x2="320.60" y2="378.15" stroke="#22a822" stroke-width="1.45"/>
<text x="277.30" y="344.10" font-size="10.5" text-anchor="middle" font-weight="bold">A</text>
<text x="277.30" y="417.90" font-size="10.5" text-anchor="middle" font-weight="bold">A</text>
<text x="277.30" y="373.20" font-size="10.5" text-anchor="middle" font-weight="bold">A</text>
<polygon points="277.30,374.90 278.49,377.76 281.58,378.01 279.23,380.03 279.95,383.04 277.30,381.42 274.65,383.04 275.37,380.03 273.02,378.01 276.11,377.76" fill="#111"/>
<text x="309.50" y="362.55" font-size="10.5" text-anchor="middle" font-weight="bold">P</text>
<text x="309.50" y="399.45" font-size="10.5" text-anchor="middle" font-weight="bold">P</text>
<rect x="291.00" y="370.60" width="13.80" height="13.20" fill="none" stroke="#777" stroke-width="0.8"/>
<polygon points="301.90,316.50 303.28,319.50 306.56,319.89 304.14,322.13 304.78,325.36 301.90,323.75 299.02,325.36 299.66,322.13 297.24,319.89 300.52,319.50" fill="#111"/>
<text x="307.90" y="324.40" font-size="9.9">Expansion</text>
<polygon points="301.70,437.30 303.08,440.30 306.36,440.69 303.94,442.93 304.58,446.16 301.70,444.55 298.82,446.16 299.46,442.93 297.04,440.69 300.32,440.30" fill="#111"/>
<text x="307.80" y="445.00" font-size="9.9">Contraction</text>
<polygon points="335.61,348.93 348.84,336.93 352.27,340.70 356.00,328.00 342.99,330.48 346.42,334.26 333.19,346.27" fill="#000"/>
<polygon points="333.19,414.74 346.41,426.66 342.99,430.45 356.00,432.90 352.24,420.21 348.82,423.99 335.61,412.06" fill="#000"/>
<text x="401.70" y="288.00" font-size="9.9" text-anchor="middle">Resistance model</text>
<text x="402.30" y="403.00" font-size="9.9" text-anchor="middle">Attraction model</text>
<clipPath id="mbres"><rect x="363.6" y="295.2" width="77.09999999999997" height="76.30000000000001"/></clipPath>
<g clip-path="url(#mbres)">
<rect x="363.60" y="295.20" width="77.10" height="76.30" fill="#fff"/>
<polyline points="374.18,292.20 398.90,333.40 374.24,374.50" fill="none" stroke="#000" stroke-width="2.0"/>
<polyline points="385.61,292.20 404.80,328.40 443.70,328.40" fill="none" stroke="#000" stroke-width="2.0"/>
<polyline points="386.13,374.50 404.80,338.60 443.70,338.60" fill="none" stroke="#000" stroke-width="2.0"/>
</g>
<rect x="363.60" y="295.20" width="77.10" height="76.30" fill="none" stroke="#000" stroke-width="1.3"/>
<line x1="411.00" y1="325.40" x2="411.00" y2="341.60" stroke="#1aa01a" stroke-width="1.6"/>
<path d="M407.90,330.80 Q408.60,332.80 411.00,332.60 Q413.40,332.80 414.10,330.80" fill="none" stroke="#1aa01a" stroke-width="1.1"/>
<path d="M407.90,336.20 Q408.60,334.20 411.00,334.40 Q413.40,334.20 414.10,336.20" fill="none" stroke="#1aa01a" stroke-width="1.1"/>
<line x1="418.90" y1="325.40" x2="418.90" y2="341.60" stroke="#1aa01a" stroke-width="1.6"/>
<path d="M415.80,330.80 Q416.50,332.80 418.90,332.60 Q421.30,332.80 422.00,330.80" fill="none" stroke="#1aa01a" stroke-width="1.1"/>
<path d="M415.80,336.20 Q416.50,334.20 418.90,334.40 Q421.30,334.20 422.00,336.20" fill="none" stroke="#1aa01a" stroke-width="1.1"/>
<line x1="426.90" y1="325.40" x2="426.90" y2="341.60" stroke="#1aa01a" stroke-width="1.6"/>
<path d="M423.80,330.80 Q424.50,332.80 426.90,332.60 Q429.30,332.80 430.00,330.80" fill="none" stroke="#1aa01a" stroke-width="1.1"/>
<path d="M423.80,336.20 Q424.50,334.20 426.90,334.40 Q429.30,334.20 430.00,336.20" fill="none" stroke="#1aa01a" stroke-width="1.1"/>
<line x1="435.00" y1="325.40" x2="435.00" y2="341.60" stroke="#1aa01a" stroke-width="1.6"/>
<path d="M431.90,330.80 Q432.60,332.80 435.00,332.60 Q437.40,332.80 438.10,330.80" fill="none" stroke="#1aa01a" stroke-width="1.1"/>
<path d="M431.90,336.20 Q432.60,334.20 435.00,334.40 Q437.40,334.20 438.10,336.20" fill="none" stroke="#1aa01a" stroke-width="1.1"/>
<linearGradient id="gradres" x1="0" x2="1" y1="0" y2="0"><stop offset="0" stop-color="#fff0f0"/><stop offset="0.55" stop-color="#ff8080"/><stop offset="1" stop-color="#ff2020"/></linearGradient>
<polygon points="373.20,329.20 390.10,329.20 390.10,323.80 399.80,333.40 390.10,343.00 390.10,337.60 373.20,337.60" fill="url(#gradres)" stroke="#ff5050" stroke-width="0.5"/>
<linearGradient id="gradresvu" x1="0" x2="0" y1="0" y2="1"><stop offset="0" stop-color="#ff1818"/><stop offset="0.45" stop-color="#ff4040"/><stop offset="1" stop-color="#ffe0e0"/></linearGradient>
<linearGradient id="gradresvd" x1="0" x2="0" y1="1" y2="0"><stop offset="0" stop-color="#ff1818"/><stop offset="0.45" stop-color="#ff4040"/><stop offset="1" stop-color="#ffe0e0"/></linearGradient>
<polygon points="401.20,317.50 405.40,322.80 403.10,322.80 403.10,331.20 399.30,331.20 399.30,322.80 397.00,322.80" fill="url(#gradresvu)" stroke="#ff3030" stroke-width="0.5"/>
<polygon points="401.20,349.30 405.40,344.00 403.10,344.00 403.10,335.60 399.30,335.60 399.30,344.00 397.00,344.00" fill="url(#gradresvd)" stroke="#ff3030" stroke-width="0.5"/>
<line x1="401.80" y1="329.40" x2="407.20" y2="324.60" stroke="#1a50e0" stroke-width="1.5"/>
<line x1="403.20" y1="325.40" x2="405.60" y2="328.40" stroke="#1a50e0" stroke-width="1.3"/>
<line x1="401.80" y1="337.40" x2="407.20" y2="342.20" stroke="#1a50e0" stroke-width="1.5"/>
<line x1="403.20" y1="341.40" x2="405.60" y2="338.40" stroke="#1a50e0" stroke-width="1.3"/>
<text x="422.10" y="322.60" font-size="10.8" text-anchor="middle" fill="#33b033" letter-spacing="-0.35">Toll-1</text>
<clipPath id="mbatt"><rect x="363.6" y="410.5" width="77.09999999999997" height="76.30000000000001"/></clipPath>
<g clip-path="url(#mbatt)">
<rect x="363.60" y="410.50" width="77.10" height="76.30" fill="#fff"/>
<polyline points="374.18,407.50 395.60,448.70 374.23,489.80" fill="none" stroke="#000" stroke-width="2.0"/>
<polyline points="385.61,407.50 404.80,443.70 443.70,443.70" fill="none" stroke="#000" stroke-width="2.0"/>
<polyline points="386.13,489.80 404.80,453.90 443.70,453.90" fill="none" stroke="#000" stroke-width="2.0"/>
</g>
<rect x="363.60" y="410.50" width="77.10" height="76.30" fill="none" stroke="#000" stroke-width="1.3"/>
<line x1="411.00" y1="440.70" x2="411.00" y2="456.90" stroke="#1aa01a" stroke-width="1.6"/>
<path d="M407.90,446.10 Q408.60,448.10 411.00,447.90 Q413.40,448.10 414.10,446.10" fill="none" stroke="#1aa01a" stroke-width="1.1"/>
<path d="M407.90,451.50 Q408.60,449.50 411.00,449.70 Q413.40,449.50 414.10,451.50" fill="none" stroke="#1aa01a" stroke-width="1.1"/>
<line x1="418.90" y1="440.70" x2="418.90" y2="456.90" stroke="#1aa01a" stroke-width="1.6"/>
<path d="M415.80,446.10 Q416.50,448.10 418.90,447.90 Q421.30,448.10 422.00,446.10" fill="none" stroke="#1aa01a" stroke-width="1.1"/>
<path d="M415.80,451.50 Q416.50,449.50 418.90,449.70 Q421.30,449.50 422.00,451.50" fill="none" stroke="#1aa01a" stroke-width="1.1"/>
<line x1="426.90" y1="440.70" x2="426.90" y2="456.90" stroke="#1aa01a" stroke-width="1.6"/>
<path d="M423.80,446.10 Q424.50,448.10 426.90,447.90 Q429.30,448.10 430.00,446.10" fill="none" stroke="#1aa01a" stroke-width="1.1"/>
<path d="M423.80,451.50 Q424.50,449.50 426.90,449.70 Q429.30,449.50 430.00,451.50" fill="none" stroke="#1aa01a" stroke-width="1.1"/>
<line x1="435.00" y1="440.70" x2="435.00" y2="456.90" stroke="#1aa01a" stroke-width="1.6"/>
<path d="M431.90,446.10 Q432.60,448.10 435.00,447.90 Q437.40,448.10 438.10,446.10" fill="none" stroke="#1aa01a" stroke-width="1.1"/>
<path d="M431.90,451.50 Q432.60,449.50 435.00,449.70 Q437.40,449.50 438.10,451.50" fill="none" stroke="#1aa01a" stroke-width="1.1"/>
<linearGradient id="gradatt" x1="0" x2="1" y1="0" y2="0"><stop offset="0" stop-color="#ff1a1a"/><stop offset="0.5" stop-color="#ff7070"/><stop offset="1" stop-color="#fff4f4"/></linearGradient>
<polygon points="371.30,449.30 380.70,439.20 380.70,445.50 398.60,445.50 398.60,452.50 380.70,452.50 380.70,458.90" fill="url(#gradatt)" stroke="#ff6060" stroke-width="0.4"/>
<linearGradient id="gradattd" x1="0" x2="0" y1="0" y2="1"><stop offset="0" stop-color="#ffd8d8"/><stop offset="0.6" stop-color="#ff3030"/><stop offset="1" stop-color="#ff1010"/></linearGradient>
<linearGradient id="gradattu" x1="0" x2="0" y1="1" y2="0"><stop offset="0" stop-color="#ffd8d8"/><stop offset="0.6" stop-color="#ff3030"/><stop offset="1" stop-color="#ff1010"/></linearGradient>
<polygon points="398.90,433.40 402.40,433.40 402.40,440.10 404.50,440.10 400.60,445.40 396.80,440.10 398.90,440.10" fill="url(#gradattd)"/>
<polygon points="398.90,464.00 402.40,464.00 402.40,457.30 404.50,457.30 400.60,452.00 396.80,457.30 398.90,457.30" fill="url(#gradattu)"/>
<path d="M401.58,442.42 A5.8,5.8 0 1 0 398.63,436.09" fill="none" stroke="#1a50f0" stroke-width="1.7"/>
<polygon points="395.23,435.69 400.83,435.69 397.43,440.29" fill="#1a50f0"/>
<path d="M401.58,454.98 A5.8,5.8 0 1 1 398.63,461.31" fill="none" stroke="#1a50f0" stroke-width="1.7"/>
<polygon points="395.23,461.71 400.83,461.71 397.43,457.11" fill="#1a50f0"/>
<text x="458.00" y="284.30" font-size="14" fill="#000" font-weight="bold">f</text>
<line x1="512.10" y1="284.30" x2="512.10" y2="433.00" stroke="#333" stroke-width="1"/>
<line x1="509.50" y1="284.45" x2="512.10" y2="284.45" stroke="#333" stroke-width="1"/>
<text x="505.80" y="287.85" font-size="9.7" text-anchor="end">1.5</text>
<line x1="509.50" y1="312.30" x2="512.10" y2="312.30" stroke="#333" stroke-width="1"/>
<text x="505.80" y="315.70" font-size="9.7" text-anchor="end">1.0</text>
<line x1="509.50" y1="340.15" x2="512.10" y2="340.15" stroke="#333" stroke-width="1"/>
<text x="505.80" y="343.55" font-size="9.7" text-anchor="end">0.5</text>
<line x1="509.50" y1="368.00" x2="512.10" y2="368.00" stroke="#333" stroke-width="1"/>
<text x="505.80" y="371.40" font-size="9.7" text-anchor="end">0.0</text>
<line x1="509.50" y1="395.85" x2="512.10" y2="395.85" stroke="#333" stroke-width="1"/>
<text x="505.80" y="399.25" font-size="9.7" text-anchor="end">−0.5</text>
<line x1="509.50" y1="423.70" x2="512.10" y2="423.70" stroke="#333" stroke-width="1"/>
<text x="505.80" y="427.10" font-size="9.7" text-anchor="end">−1.0</text>
<text x="467.30" y="357.00" font-size="9.9" text-anchor="middle" transform="rotate(-90 467.30 357.00)">Difference with isotropic</text>
<text x="479.00" y="357.00" font-size="9.9" text-anchor="middle" transform="rotate(-90 479.00 357.00)">radial displacement, Δ<tspan font-style="italic">d</tspan></text>
<line x1="540.20" y1="323.30" x2="570.10" y2="323.30" stroke="#333" stroke-width="1"/>
<circle cx="553.30" cy="320.20" r="1.1" fill="#222"/>
<circle cx="557.30" cy="320.20" r="1.1" fill="#222"/>
<line x1="540.20" y1="306.90" x2="607.20" y2="306.90" stroke="#333" stroke-width="1"/>
<text x="574.00" y="304.80" font-size="9.1" text-anchor="middle">n.s.</text>
<line x1="578.00" y1="290.50" x2="644.60" y2="290.50" stroke="#333" stroke-width="1"/>
<circle cx="607.60" cy="287.40" r="1.1" fill="#222"/>
<circle cx="611.50" cy="287.40" r="1.1" fill="#222"/>
<circle cx="615.40" cy="287.40" r="1.1" fill="#222"/>
<line x1="615.30" y1="323.30" x2="644.60" y2="323.30" stroke="#333" stroke-width="1"/>
<text x="630.00" y="321.30" font-size="9.1" text-anchor="middle">n.s.</text>
<circle cx="536.60" cy="330.70" r="1.4" fill="#000"/>
<circle cx="536.60" cy="346.30" r="1.4" fill="#000"/>
<circle cx="531.00" cy="348.90" r="1.4" fill="#000"/>
<circle cx="533.60" cy="348.90" r="1.4" fill="#000"/>
<circle cx="539.60" cy="348.90" r="1.4" fill="#000"/>
<circle cx="542.60" cy="348.40" r="1.4" fill="#000"/>
<circle cx="536.90" cy="349.60" r="1.4" fill="#000"/>
<circle cx="536.60" cy="352.90" r="1.4" fill="#000"/>
<circle cx="539.60" cy="352.60" r="1.4" fill="#000"/>
<circle cx="531.30" cy="360.80" r="1.4" fill="#000"/>
<circle cx="533.90" cy="361.10" r="1.4" fill="#000"/>
<circle cx="536.60" cy="360.10" r="1.4" fill="#000"/>
<circle cx="539.60" cy="362.30" r="1.4" fill="#000"/>
<circle cx="531.30" cy="364.60" r="1.4" fill="#000"/>
<circle cx="533.90" cy="364.10" r="1.4" fill="#000"/>
<circle cx="536.90" cy="363.50" r="1.4" fill="#000"/>
<circle cx="539.90" cy="365.00" r="1.4" fill="#000"/>
<circle cx="542.60" cy="365.00" r="1.4" fill="#000"/>
<circle cx="531.30" cy="369.00" r="1.4" fill="#000"/>
<circle cx="533.90" cy="369.80" r="1.4" fill="#000"/>
<circle cx="536.90" cy="369.80" r="1.4" fill="#000"/>
<circle cx="539.90" cy="369.80" r="1.4" fill="#000"/>
<circle cx="542.60" cy="368.60" r="1.4" fill="#000"/>
<circle cx="536.90" cy="372.50" r="1.4" fill="#000"/>
<circle cx="539.60" cy="372.80" r="1.4" fill="#000"/>
<circle cx="533.60" cy="375.70" r="1.4" fill="#000"/>
<circle cx="536.20" cy="377.20" r="1.4" fill="#000"/>
<circle cx="538.70" cy="378.40" r="1.4" fill="#000"/>
<circle cx="536.90" cy="380.50" r="1.4" fill="#000"/>
<circle cx="539.60" cy="382.50" r="1.4" fill="#000"/>
<circle cx="536.90" cy="383.20" r="1.4" fill="#000"/>
<circle cx="538.40" cy="385.90" r="1.4" fill="#000"/>
<circle cx="536.60" cy="387.70" r="1.4" fill="#000"/>
<circle cx="536.60" cy="391.00" r="1.4" fill="#000"/>
<circle cx="536.90" cy="396.60" r="1.4" fill="#000"/>
<circle cx="539.90" cy="396.30" r="1.4" fill="#000"/>
<circle cx="534.00" cy="367.00" r="1.4" fill="#000"/>
<circle cx="537.00" cy="367.00" r="1.4" fill="#000"/>
<circle cx="540.00" cy="367.00" r="1.4" fill="#000"/>
<circle cx="575.90" cy="341.40" r="1.4" fill="#000"/>
<circle cx="574.20" cy="343.00" r="1.4" fill="#000"/>
<circle cx="569.20" cy="360.50" r="1.4" fill="#000"/>
<circle cx="571.70" cy="361.00" r="1.4" fill="#000"/>
<circle cx="574.20" cy="362.10" r="1.4" fill="#000"/>
<circle cx="577.10" cy="362.70" r="1.4" fill="#000"/>
<circle cx="568.40" cy="366.80" r="1.4" fill="#000"/>
<circle cx="571.40" cy="367.20" r="1.4" fill="#000"/>
<circle cx="574.20" cy="366.80" r="1.4" fill="#000"/>
<circle cx="576.80" cy="367.70" r="1.4" fill="#000"/>
<circle cx="580.10" cy="366.80" r="1.4" fill="#000"/>
<circle cx="582.60" cy="366.50" r="1.4" fill="#000"/>
<circle cx="574.70" cy="369.40" r="1.4" fill="#000"/>
<circle cx="565.00" cy="372.20" r="1.4" fill="#000"/>
<circle cx="567.50" cy="373.50" r="1.4" fill="#000"/>
<circle cx="570.10" cy="373.90" r="1.4" fill="#000"/>
<circle cx="573.10" cy="373.20" r="1.4" fill="#000"/>
<circle cx="575.90" cy="373.90" r="1.4" fill="#000"/>
<circle cx="578.40" cy="373.50" r="1.4" fill="#000"/>
<circle cx="580.90" cy="373.20" r="1.4" fill="#000"/>
<circle cx="568.40" cy="375.20" r="1.4" fill="#000"/>
<circle cx="571.40" cy="375.70" r="1.4" fill="#000"/>
<circle cx="574.20" cy="375.60" r="1.4" fill="#000"/>
<circle cx="577.10" cy="375.60" r="1.4" fill="#000"/>
<circle cx="574.20" cy="381.60" r="1.4" fill="#000"/>
<circle cx="576.80" cy="381.60" r="1.4" fill="#000"/>
<circle cx="570.90" cy="385.00" r="1.4" fill="#000"/>
<circle cx="573.70" cy="385.30" r="1.4" fill="#000"/>
<circle cx="576.80" cy="387.80" r="1.4" fill="#000"/>
<circle cx="574.20" cy="388.30" r="1.4" fill="#000"/>
<circle cx="576.80" cy="392.00" r="1.4" fill="#000"/>
<circle cx="574.20" cy="393.30" r="1.4" fill="#000"/>
<circle cx="574.20" cy="397.00" r="1.4" fill="#000"/>
<circle cx="574.20" cy="406.20" r="1.4" fill="#000"/>
<circle cx="576.80" cy="406.20" r="1.4" fill="#000"/>
<circle cx="574.20" cy="414.10" r="1.4" fill="#000"/>
<circle cx="574.20" cy="420.50" r="1.4" fill="#000"/>
<circle cx="572.00" cy="378.00" r="1.4" fill="#000"/>
<circle cx="575.00" cy="378.00" r="1.4" fill="#000"/>
<circle cx="578.00" cy="378.00" r="1.4" fill="#000"/>
<circle cx="611.20" cy="336.70" r="1.4" fill="#000"/>
<circle cx="611.20" cy="343.00" r="1.4" fill="#000"/>
<circle cx="614.20" cy="341.90" r="1.4" fill="#000"/>
<circle cx="608.70" cy="353.60" r="1.4" fill="#000"/>
<circle cx="611.20" cy="354.60" r="1.4" fill="#000"/>
<circle cx="613.60" cy="352.70" r="1.4" fill="#000"/>
<circle cx="602.72" cy="355.37" r="1.4" fill="#000"/>
<circle cx="605.25" cy="356.87" r="1.4" fill="#000"/>
<circle cx="607.94" cy="357.61" r="1.4" fill="#000"/>
<circle cx="610.93" cy="357.61" r="1.4" fill="#000"/>
<circle cx="613.61" cy="356.87" r="1.4" fill="#000"/>
<circle cx="616.15" cy="357.61" r="1.4" fill="#000"/>
<circle cx="618.69" cy="356.87" r="1.4" fill="#000"/>
<circle cx="610.93" cy="359.85" r="1.4" fill="#000"/>
<circle cx="613.61" cy="359.10" r="1.4" fill="#000"/>
<circle cx="597.49" cy="362.54" r="1.4" fill="#000"/>
<circle cx="600.18" cy="362.84" r="1.4" fill="#000"/>
<circle cx="602.72" cy="362.09" r="1.4" fill="#000"/>
<circle cx="605.25" cy="362.54" r="1.4" fill="#000"/>
<circle cx="607.94" cy="362.84" r="1.4" fill="#000"/>
<circle cx="610.63" cy="363.13" r="1.4" fill="#000"/>
<circle cx="613.16" cy="362.54" r="1.4" fill="#000"/>
<circle cx="616.15" cy="362.84" r="1.4" fill="#000"/>
<circle cx="618.69" cy="362.09" r="1.4" fill="#000"/>
<circle cx="621.37" cy="363.13" r="1.4" fill="#000"/>
<circle cx="623.61" cy="363.58" r="1.4" fill="#000"/>
<circle cx="598.99" cy="365.52" r="1.4" fill="#000"/>
<circle cx="601.97" cy="365.52" r="1.4" fill="#000"/>
<circle cx="604.96" cy="365.52" r="1.4" fill="#000"/>
<circle cx="607.94" cy="365.52" r="1.4" fill="#000"/>
<circle cx="610.93" cy="365.52" r="1.4" fill="#000"/>
<circle cx="613.91" cy="365.52" r="1.4" fill="#000"/>
<circle cx="616.90" cy="365.52" r="1.4" fill="#000"/>
<circle cx="619.88" cy="365.52" r="1.4" fill="#000"/>
<circle cx="622.57" cy="365.52" r="1.4" fill="#000"/>
<circle cx="598.99" cy="367.31" r="1.4" fill="#000"/>
<circle cx="601.67" cy="367.61" r="1.4" fill="#000"/>
<circle cx="604.21" cy="368.06" r="1.4" fill="#000"/>
<circle cx="607.19" cy="368.06" r="1.4" fill="#000"/>
<circle cx="609.73" cy="368.51" r="1.4" fill="#000"/>
<circle cx="612.42" cy="368.06" r="1.4" fill="#000"/>
<circle cx="615.10" cy="368.51" r="1.4" fill="#000"/>
<circle cx="617.64" cy="368.06" r="1.4" fill="#000"/>
<circle cx="620.18" cy="367.31" r="1.4" fill="#000"/>
<circle cx="622.87" cy="367.01" r="1.4" fill="#000"/>
<circle cx="601.97" cy="371.79" r="1.4" fill="#000"/>
<circle cx="604.66" cy="372.54" r="1.4" fill="#000"/>
<circle cx="607.64" cy="372.99" r="1.4" fill="#000"/>
<circle cx="610.63" cy="373.28" r="1.4" fill="#000"/>
<circle cx="613.61" cy="372.99" r="1.4" fill="#000"/>
<circle cx="616.60" cy="372.54" r="1.4" fill="#000"/>
<circle cx="619.58" cy="372.09" r="1.4" fill="#000"/>
<circle cx="622.57" cy="371.49" r="1.4" fill="#000"/>
<circle cx="611.22" cy="375.52" r="1.4" fill="#000"/>
<circle cx="612.42" cy="376.27" r="1.4" fill="#000"/>
<circle cx="611.22" cy="378.51" r="1.4" fill="#000"/>
<circle cx="611.22" cy="382.24" r="1.4" fill="#000"/>
<circle cx="614.21" cy="381.94" r="1.4" fill="#000"/>
<circle cx="611.22" cy="390.15" r="1.4" fill="#000"/>
<circle cx="611.22" cy="404.63" r="1.4" fill="#000"/>
<circle cx="648.42" cy="335.33" r="1.4" fill="#000"/>
<circle cx="648.42" cy="342.62" r="1.4" fill="#000"/>
<circle cx="645.90" cy="346.12" r="1.4" fill="#000"/>
<circle cx="648.42" cy="347.52" r="1.4" fill="#000"/>
<circle cx="651.23" cy="346.82" r="1.4" fill="#000"/>
<circle cx="650.10" cy="351.03" r="1.4" fill="#000"/>
<circle cx="648.42" cy="353.13" r="1.4" fill="#000"/>
<circle cx="648.42" cy="356.36" r="1.4" fill="#000"/>
<circle cx="639.31" cy="358.74" r="1.4" fill="#000"/>
<circle cx="641.41" cy="359.44" r="1.4" fill="#000"/>
<circle cx="643.51" cy="359.44" r="1.4" fill="#000"/>
<circle cx="645.90" cy="359.72" r="1.4" fill="#000"/>
<circle cx="648.42" cy="359.72" r="1.4" fill="#000"/>
<circle cx="650.94" cy="359.44" r="1.4" fill="#000"/>
<circle cx="653.33" cy="359.72" r="1.4" fill="#000"/>
<circle cx="655.43" cy="359.16" r="1.4" fill="#000"/>
<circle cx="636.50" cy="361.54" r="1.4" fill="#000"/>
<circle cx="638.89" cy="361.96" r="1.4" fill="#000"/>
<circle cx="641.13" cy="361.96" r="1.4" fill="#000"/>
<circle cx="643.51" cy="361.96" r="1.4" fill="#000"/>
<circle cx="645.90" cy="362.24" r="1.4" fill="#000"/>
<circle cx="648.42" cy="362.24" r="1.4" fill="#000"/>
<circle cx="650.94" cy="362.24" r="1.4" fill="#000"/>
<circle cx="653.33" cy="361.96" r="1.4" fill="#000"/>
<circle cx="655.71" cy="361.96" r="1.4" fill="#000"/>
<circle cx="658.23" cy="361.54" r="1.4" fill="#000"/>
<circle cx="660.34" cy="361.54" r="1.4" fill="#000"/>
<circle cx="638.61" cy="365.05" r="1.4" fill="#000"/>
<circle cx="642.81" cy="365.33" r="1.4" fill="#000"/>
<circle cx="647.02" cy="365.33" r="1.4" fill="#000"/>
<circle cx="651.23" cy="365.33" r="1.4" fill="#000"/>
<circle cx="655.43" cy="365.05" r="1.4" fill="#000"/>
<circle cx="634.40" cy="366.73" r="1.4" fill="#000"/>
<circle cx="636.93" cy="367.57" r="1.4" fill="#000"/>
<circle cx="639.31" cy="367.85" r="1.4" fill="#000"/>
<circle cx="641.69" cy="368.13" r="1.4" fill="#000"/>
<circle cx="644.22" cy="368.55" r="1.4" fill="#000"/>
<circle cx="646.74" cy="368.55" r="1.4" fill="#000"/>
<circle cx="649.12" cy="368.55" r="1.4" fill="#000"/>
<circle cx="651.51" cy="368.13" r="1.4" fill="#000"/>
<circle cx="654.03" cy="368.13" r="1.4" fill="#000"/>
<circle cx="656.55" cy="367.85" r="1.4" fill="#000"/>
<circle cx="658.94" cy="367.57" r="1.4" fill="#000"/>
<circle cx="661.04" cy="366.73" r="1.4" fill="#000"/>
<circle cx="639.31" cy="370.38" r="1.4" fill="#000"/>
<circle cx="641.69" cy="370.94" r="1.4" fill="#000"/>
<circle cx="644.22" cy="371.36" r="1.4" fill="#000"/>
<circle cx="646.74" cy="371.78" r="1.4" fill="#000"/>
<circle cx="649.12" cy="371.78" r="1.4" fill="#000"/>
<circle cx="651.51" cy="371.36" r="1.4" fill="#000"/>
<circle cx="654.03" cy="370.94" r="1.4" fill="#000"/>
<circle cx="656.55" cy="370.38" r="1.4" fill="#000"/>
<circle cx="648.42" cy="375.56" r="1.4" fill="#000"/>
<circle cx="648.42" cy="380.19" r="1.4" fill="#000"/>
<circle cx="650.94" cy="379.35" r="1.4" fill="#000"/>
<circle cx="648.42" cy="382.57" r="1.4" fill="#000"/>
<circle cx="648.42" cy="384.96" r="1.4" fill="#000"/>
<circle cx="648.42" cy="388.60" r="1.4" fill="#000"/>
<circle cx="648.42" cy="396.59" r="1.4" fill="#000"/>
<circle cx="648.42" cy="399.40" r="1.4" fill="#000"/>
<line x1="524.00" y1="367.60" x2="549.90" y2="367.60" stroke="#f00" stroke-width="2.0"/>
<line x1="561.30" y1="377.90" x2="586.90" y2="377.90" stroke="#f00" stroke-width="2.0"/>
<line x1="598.50" y1="365.50" x2="623.80" y2="365.50" stroke="#f00" stroke-width="2.0"/>
<line x1="635.70" y1="366.00" x2="661.90" y2="366.00" stroke="#f00" stroke-width="2.0"/>
<text x="522.40" y="454.10" font-size="9.9" text-anchor="middle" transform="rotate(-45 522.40 454.10)">Contraction</text>
<text x="530.86" y="462.16" font-size="9.9" text-anchor="middle" transform="rotate(-45 530.86 462.16)">Control</text>
<text x="526.00" y="484.90" font-size="9.9" text-anchor="middle"><tspan font-style="italic">n</tspan> = 39</text>
<text x="561.60" y="453.00" font-size="9.9" text-anchor="middle" transform="rotate(-45 561.60 453.00)">Expansion</text>
<text x="569.66" y="461.06" font-size="9.9" text-anchor="middle" transform="rotate(-45 569.66 461.06)">Control</text>
<text x="563.30" y="484.90" font-size="9.9" text-anchor="middle"><tspan font-style="italic">n</tspan> = 40</text>
<text x="597.60" y="454.80" font-size="9.9" text-anchor="middle" transform="rotate(-45 597.60 454.80)">Contraction</text>
<text x="604.46" y="462.86" font-size="9.9" text-anchor="middle" transform="rotate(-45 604.46 462.86)"><tspan font-style="italic">Tl</tspan>-1</text>
<text x="600.80" y="484.90" font-size="9.9" text-anchor="middle"><tspan font-style="italic">n</tspan> = 57</text>
<text x="636.30" y="453.00" font-size="9.9" text-anchor="middle" transform="rotate(-45 636.30 453.00)">Expansion</text>
<text x="643.16" y="461.06" font-size="9.9" text-anchor="middle" transform="rotate(-45 643.16 461.06)"><tspan font-style="italic">Tl</tspan>-1</text>
<text x="638.40" y="484.90" font-size="9.9" text-anchor="middle"><tspan font-style="italic">n</tspan> = 52</text>
</svg>
</body></html>
